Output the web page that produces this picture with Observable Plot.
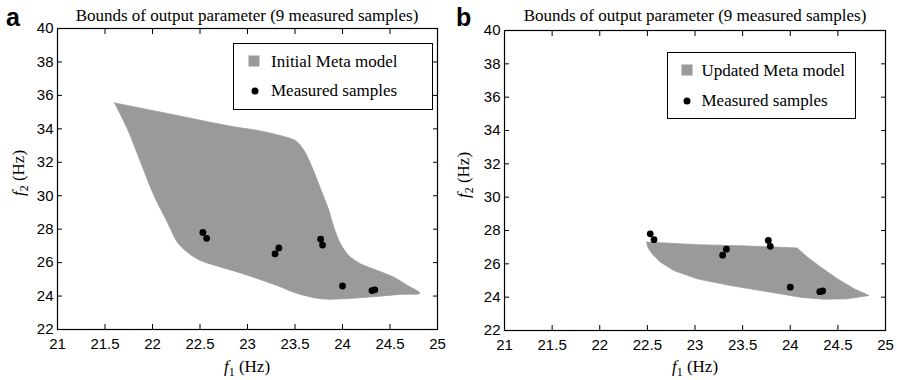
<!DOCTYPE html>
<html><head><meta charset="utf-8">
<script src="https://cdn.jsdelivr.net/npm/d3@7"></script>
<script src="https://cdn.jsdelivr.net/npm/@observablehq/plot@0.6"></script>
<style>
body{margin:0;background:#fff;}
#wrap{position:relative;width:900px;height:380px;overflow:hidden;background:#fff;}
.panel{position:absolute;top:0;width:450px;height:380px;}
.ovl{position:absolute;white-space:nowrap;color:#000;line-height:1;}
.serif{font-family:"Liberation Serif","Times New Roman",serif;font-size:17px;}
.letter{font-family:"Liberation Sans",Arial,sans-serif;font-weight:bold;font-size:25px;}
.c{transform:translate(-50%,-50%);}
.rot{transform:translate(-50%,-50%) rotate(-90deg);}
sub{font-size:12px;vertical-align:-4px;line-height:0;}
.legend{position:absolute;border:1px solid #000;background:#fff;box-sizing:border-box;}
.sq{position:absolute;width:11px;height:11px;background:#9a9a9a;transform:translate(-50%,-50%);}
.dot{position:absolute;width:7px;height:7px;border-radius:50%;background:#000;transform:translate(-50%,-50%);}
.lt{position:absolute;white-space:nowrap;font-family:"Liberation Serif","Times New Roman",serif;font-size:17px;line-height:1;transform:translateY(-50%);}
</style></head>
<body><div id="wrap"></div>
<script>
// ---- data ----
const xTicks = [21, 21.5, 22, 22.5, 23, 23.5, 24, 24.5, 25];
const yTicks = [22, 24, 26, 28, 30, 32, 34, 36, 38, 40];
const titleText = "Bounds of output parameter (9 measured samples)";
const legendA = ["Initial Meta model", "Measured samples"];
const legendB = ["Updated Meta model", "Measured samples"];

// measured samples (f1, f2)
const sampleF1 = [22.53, 22.57, 23.29, 23.33, 23.77, 23.79, 24.00, 24.31, 24.34];
const sampleF2 = [27.80, 27.45, 26.52, 26.88, 27.40, 27.05, 24.60, 24.33, 24.37];

// initial meta model region outline (panel a)
const regionAF1 = [21.60, 22.155, 22.856, 23.137, 23.453, 23.523, 23.593, 23.663, 23.734, 23.803, 23.856, 23.908, 23.979, 24.066, 24.189, 24.365, 24.540, 24.681, 24.814, 24.611, 24.189, 24.010, 23.768, 23.487, 23.313, 23.137, 22.926, 22.681, 22.505, 22.365, 22.260, 22.189, 22.119, 22.014, 21.874, 21.734, 21.60];
const regionAF2 = [35.55, 34.92, 34.12, 33.87, 33.42, 33.22, 32.72, 31.93, 30.93, 29.92, 29.13, 28.13, 27.13, 26.43, 25.93, 25.53, 25.13, 24.64, 24.17, 24.10, 23.90, 23.84, 23.84, 24.23, 24.63, 24.98, 25.38, 25.80, 26.13, 26.63, 27.23, 28.03, 28.83, 30.03, 32.02, 34.02, 35.55];

// updated meta model region outline (panel b)
const regionBF1 = [22.491, 23.023, 23.548, 24.073, 24.178, 24.318, 24.493, 24.668, 24.826, 24.598, 24.350, 24.100, 23.898, 23.373, 23.023, 22.777, 22.638, 22.550, 22.505, 22.491];
const regionBF2 = [27.31, 27.15, 27.07, 26.95, 26.41, 25.81, 25.11, 24.51, 24.10, 23.90, 23.88, 24.00, 24.20, 24.70, 25.10, 25.60, 26.10, 26.60, 27.00, 27.31];

const samples = sampleF1.map((f1, i) => ({f1, f2: sampleF2[i]}));
const regionA = regionAF1.map((f1, i) => ({f1, f2: regionAF2[i]}));
const regionB = regionBF1.map((f1, i) => ({f1, f2: regionBF2[i]}));

const GRAY = "#9a9a9a";

function panel(region, curve, m) {
  return Plot.plot({
    width: 450, height: 380,
    marginLeft: m.left, marginRight: m.right, marginTop: m.top, marginBottom: m.bottom,
    style: {fontFamily: "Liberation Sans, Arial, sans-serif", fontSize: "15px", color: "#000", background: "transparent"},
    x: {domain: [21, 25]},
    y: {domain: [22, 40]},
    marks: [
      Plot.line(region, {x: "f1", y: "f2", fill: GRAY, stroke: GRAY, strokeWidth: 0.8, curve}),
      Plot.frame({stroke: "#000", strokeWidth: 1.2}),
      Plot.axisX({ticks: xTicks, tickSize: -5, tickPadding: 14, tickFormat: d => String(d), label: null}),
      Plot.axisX({anchor: "top", ticks: xTicks, tickSize: -5, tickFormat: () => "", label: null}),
      Plot.axisY({ticks: yTicks, tickSize: -5, tickPadding: 9, tickFormat: d => String(d), label: null}),
      Plot.axisY({anchor: "right", ticks: yTicks, tickSize: -5, tickFormat: () => "", label: null}),
      Plot.dot(samples, {x: "f1", y: "f2", r: 3.4, fill: "#000", stroke: "none"})
    ]
  });
}

const wrap = document.getElementById("wrap");
function addPanel(left, region, curve, m) {
  const d = document.createElement("div");
  d.className = "panel"; d.style.left = left + "px";
  d.appendChild(panel(region, curve, m));
  wrap.appendChild(d);
}
addPanel(0, regionA, "catmull-rom", {left: 57, right: 13, top: 28, bottom: 51});
addPanel(450, regionB, "linear", {left: 54, right: 15, top: 30, bottom: 50});

function ovl(html, cls, x, y) {
  const d = document.createElement("div");
  d.className = "ovl " + cls;
  d.style.left = x + "px"; d.style.top = y + "px";
  d.innerHTML = html;
  wrap.appendChild(d);
  return d;
}
// panel letters
ovl("a", "letter", 6, 5);
ovl("b", "letter", 456, 5);
// titles
ovl(titleText, "serif c", 247, 15);
ovl(titleText, "serif c", 695, 15);
// axis labels
ovl("<i>f</i><sub>1</sub> (Hz)", "serif c", 247, 366);
ovl("<i>f</i><sub>1</sub> (Hz)", "serif c", 695, 366);
ovl("<i>f</i><sub>2</sub> (Hz)", "serif rot", 18, 173);
ovl("<i>f</i><sub>2</sub> (Hz)", "serif rot", 463, 175);

function legend(x, y, w, h, labels, sq, dot, tx, ty1, ty2) {
  const L = document.createElement("div");
  L.className = "legend";
  Object.assign(L.style, {left: x + "px", top: y + "px", width: w + "px", height: h + "px"});
  L.innerHTML =
    `<div class="sq" style="left:${sq[0]}px;top:${sq[1]}px"></div>` +
    `<div class="lt" style="left:${tx}px;top:${ty1}px">${labels[0]}</div>` +
    `<div class="dot" style="left:${dot[0]}px;top:${dot[1]}px"></div>` +
    `<div class="lt" style="left:${tx}px;top:${ty2}px">${labels[1]}</div>`;
  wrap.appendChild(L);
}
legend(233, 43, 200, 67, legendA, [19.5, 16.5], [20.5, 46.5], 37, 17, 46);
legend(667, 52, 189, 67, legendB, [18.5, 16.5], [18.5, 48], 33.5, 16.5, 46.5);
</script></body></html>
